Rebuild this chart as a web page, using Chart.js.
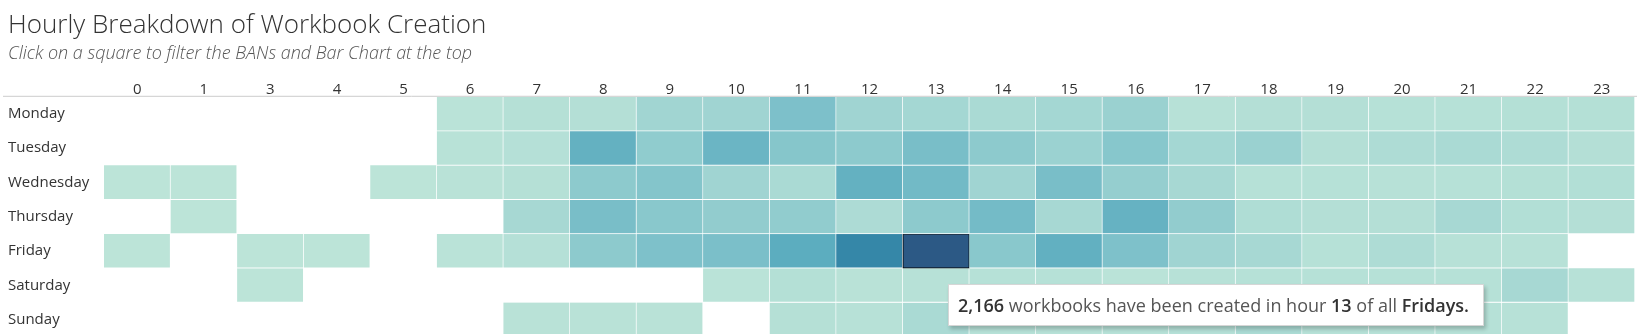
<!DOCTYPE html>
<html>
<head>
<meta charset="utf-8">
<title>Hourly Breakdown of Workbook Creation</title>
<script src="https://cdn.jsdelivr.net/npm/chart.js@4.4.1/dist/chart.umd.min.js"></script>
<style>
  html, body { margin: 0; padding: 0; background: #fff; overflow: hidden; }
  #wrap { position: relative; width: 1637px; height: 334px; }
  #tip {
    position: absolute;
    opacity: 0;
    pointer-events: none;
    background: #fff;
    border: 1px solid #d6d6d6;
    box-shadow: 2px 3px 4px rgba(0, 0, 0, 0.22);
    padding: 10px 14px 10px 9px;
    font: 18px/20px 'Open Sans', sans-serif;
    color: #555;
    white-space: nowrap;
  }
  #tip b { color: #333; font-weight: 600; }
</style>
</head>
<body>
<div id="wrap">
  <canvas id="heatmap" width="1637" height="334"></canvas>
  <div id="tip"></div>
</div>
<script>
// hour 2 never shows up in the data, so it has no column
const hours = ['0', '1', '3', '4', '5', '6', '7', '8', '9', '10', '11', '12', '13', '14', '15', '16', '17', '18', '19', '20', '21', '22', '23'];
const days = ['Monday', 'Tuesday', 'Wednesday', 'Thursday', 'Friday', 'Saturday', 'Sunday'];

// workbooks created per hour column (null = none)
const monday    = [null, null, null, null, null, 20, 60, 70, 230, 240, 580, 240, 205, 150, 205, 300, 45, 70, 70, 50, 50, 65, 65];
const tuesday   = [null, null, null, null, null, 35, 55, 820, 390, 750, 490, 420, 620, 420, 285, 480, 205, 300, 70, 115, 150, 115, 70];
const wednesday = [5, 4, null, null, 3, 25, 60, 420, 510, 240, 150, 820, 685, 240, 620, 340, 180, 50, 50, 45, 50, 65, 80];
const thursday  = [null, 3, null, null, null, null, 180, 620, 455, 375, 385, 125, 420, 670, 180, 800, 375, 105, 70, 70, 180, 80, 70];
const friday    = [6, null, 2, 3, null, 20, 55, 420, 570, 600, 890, 1470, 2166, 455, 830, 570, 240, 180, 50, 115, 45, 45, null];
const saturday  = [null, null, 2, null, null, null, null, null, null, 15, 65, 25, 45, 50, 50, 20, 45, 50, 50, 50, 50, 180, 45];
const sunday    = [null, null, null, null, null, null, 25, 30, 30, null, 60, 45, 150, 50, 45, 50, 55, 140, 50, 45, 50, 40, null];

const counts = [monday, tuesday, wednesday, thursday, friday, saturday, sunday];
const selected = { day: 'Friday', hour: '13' };

// blue-teal sequential ramp
const ramp = ['#bce4d8', '#aedcd5', '#a1d5d2', '#95cecf', '#89c8cc', '#7ec1ca', '#72bac6', '#66b2c2', '#59acbe', '#4ba5ba',
              '#419eb6', '#3b96b2', '#358ead', '#3586a7', '#347ea1', '#32779b', '#316f96', '#2f6790', '#2d608a', '#2c5985'];

const allVals = counts.flat().filter(v => v != null);
const vMin = Math.min(...allVals);
const vMax = Math.max(...allVals);

function hexToRgb(h) {
  return [1, 3, 5].map(i => parseInt(h.slice(i, i + 2), 16));
}

function colorFor(v) {
  const t = (v - vMin) / (vMax - vMin);
  const pos = t * (ramp.length - 1);
  const i = Math.min(Math.floor(pos), ramp.length - 2);
  const f = pos - i;
  const a = hexToRgb(ramp[i]), b = hexToRgb(ramp[i + 1]);
  const c = a.map((x, k) => Math.round(x + (b[k] - x) * f));
  return `rgb(${c[0]}, ${c[1]}, ${c[2]})`;
}

function isSelected(ctx) {
  return ctx.raw && days[ctx.datasetIndex] === selected.day && ctx.raw.x === selected.hour;
}

// one dataset per weekday, each cell a floating bar spanning its row; empty hours are left out
const datasets = days.map((day, d) => ({
  label: day,
  data: counts[d]
    .map((v, i) => ({ x: hours[i], y: [d, d + 1], v: v }))
    .filter(p => p.v != null),
  grouped: false,
  barPercentage: 1,
  categoryPercentage: 1,
  borderSkipped: false,
  backgroundColor: ctx => ctx.raw ? colorFor(ctx.raw.v) : 'transparent',
  borderColor: ctx => isSelected(ctx) ? '#000' : '#fff',
  borderWidth: ctx => isSelected(ctx) ? 1 : { top: 0, left: 0, right: 1, bottom: 1 }
}));

function externalTip(context) {
  const tooltip = context.tooltip;
  const el = document.getElementById('tip');
  if (tooltip.opacity === 0 || !tooltip.dataPoints || !tooltip.dataPoints.length) {
    el.style.opacity = 0;
    return;
  }
  const item = tooltip.dataPoints[0];
  const day = days[item.datasetIndex];
  const n = item.raw.v.toLocaleString('en-US');
  el.innerHTML = `<b>${n}</b> workbooks have been created in hour <b>${item.raw.x}</b> of all <b>${day}s.</b>`;
  const bar = item.element;
  el.style.left = (bar.x + 12) + 'px';
  el.style.top = (Math.max(bar.y, bar.base) + 16) + 'px';
  el.style.opacity = 1;
}

// thin rule under the hour header, running the full width
const headerRule = {
  id: 'headerRule',
  afterDraw(chart) {
    const { ctx, chartArea } = chart;
    ctx.save();
    ctx.strokeStyle = '#cccccc';
    ctx.lineWidth = 1;
    ctx.beginPath();
    ctx.moveTo(3, chartArea.top - 0.5);
    ctx.lineTo(chart.width, chartArea.top - 0.5);
    ctx.stroke();
    ctx.restore();
  }
};

// labels sit inside the rows, so no overhang padding is needed
function noPadding(axis) {
  axis.paddingTop = axis.paddingBottom = axis.paddingLeft = axis.paddingRight = 0;
}

Chart.defaults.font.family = "'Open Sans', sans-serif";
Chart.defaults.color = '#333';

const chart = new Chart(document.getElementById('heatmap'), {
  type: 'bar',
  data: { labels: hours, datasets: datasets },
  plugins: [headerRule],
  options: {
    responsive: false,
    animation: false,
    events: [],
    layout: { padding: { top: 0, left: 8, right: 2, bottom: 0 } },
    scales: {
      x: {
        type: 'category',
        position: 'top',
        offset: true,
        grid: { display: false, drawTicks: false },
        border: { display: false },
        ticks: { font: { size: 15 }, color: '#333', padding: -2, maxRotation: 0, autoSkip: false },
        afterFit(axis) { noPadding(axis); axis.height = 32; }
      },
      y: {
        type: 'linear',
        reverse: true,
        min: 0,
        max: 6.92,
        grid: { display: false, drawTicks: false },
        border: { display: false },
        afterBuildTicks(axis) {
          axis.ticks = days.map((d, i) => ({ value: i + 0.5 }));
        },
        ticks: {
          crossAlign: 'far',
          font: { size: 15 },
          color: '#333',
          callback: v => days[Math.floor(v)]
        },
        afterFit(axis) { noPadding(axis); axis.width = 96; }
      }
    },
    plugins: {
      legend: { display: false },
      title: {
        display: true,
        text: 'Hourly Breakdown of Workbook Creation',
        align: 'start',
        color: '#333',
        font: { size: 26, weight: 300, lineHeight: 1.2 },
        padding: { top: 10, bottom: 0 }
      },
      subtitle: {
        display: true,
        text: 'Click on a square to filter the BANs and Bar Chart at the top',
        align: 'start',
        color: '#555',
        font: { size: 18, style: 'italic', weight: 300, lineHeight: 1.2 },
        padding: { top: 2, bottom: 0 }
      },
      tooltip: {
        enabled: false,
        external: externalTip
      }
    }
  }
});

// show the selected cell's tooltip
const di = days.indexOf(selected.day);
const hi = datasets[di].data.findIndex(p => p.x === selected.hour);
chart.tooltip.setActiveElements([{ datasetIndex: di, index: hi }], { x: 0, y: 0 });
</script>
</body>
</html>
